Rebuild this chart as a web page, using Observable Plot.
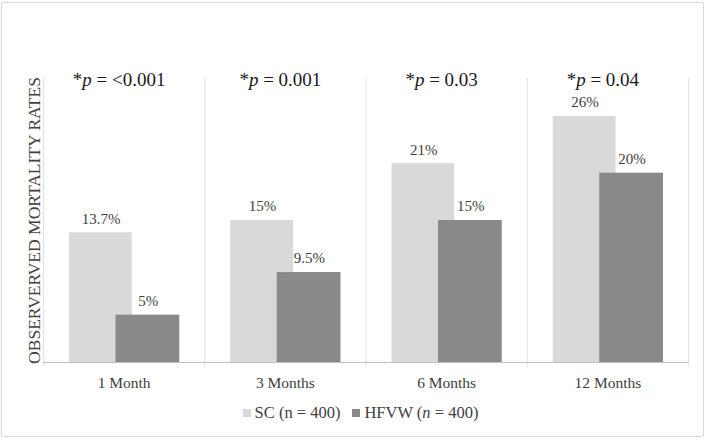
<!DOCTYPE html>
<html>
<head>
<meta charset="utf-8">
<script src="https://cdn.jsdelivr.net/npm/d3@7"></script>
<script src="https://cdn.jsdelivr.net/npm/@observablehq/plot@0.6"></script>
<style>
  html, body { margin: 0; padding: 0; background: #fff; }
  #wrap { position: relative; width: 709px; height: 440px; overflow: hidden; font-family: "Liberation Serif", "DejaVu Serif", "Noto Serif", "Times New Roman", Times, serif; }
  #border { position: absolute; left: 1px; top: 2px; width: 703px; height: 435px; border: 1px solid #d9d9d9; border-radius: 2px; box-sizing: border-box; pointer-events: none; }
  #chart { position: absolute; left: 0; top: 0; }
  #legend { position: absolute; left: 0; top: 400px; width: 709px; height: 26px; display: flex; justify-content: center; align-items: center; font-size: 16.5px; color: #404040; padding-left: 12px; box-sizing: border-box; }
  .item { display: flex; align-items: center; margin: 0 6px; }
  .sw { width: 8px; height: 8px; margin-right: 4px; }
</style>
</head>
<body>
<div id="wrap">
  <div id="chart"></div>
  <div id="legend"></div>
  <div id="border"></div>
</div>
<script>
const categories = ["1 Month", "3 Months", "6 Months", "12 Months"];
const scValues = [13.7, 15, 21, 26];
const hfvwValues = [5, 9.5, 15, 20];
const pLabels = ["*p = <0.001", "*p = 0.001", "*p = 0.03", "*p = 0.04"];
const seriesNames = ["SC (n = 400)", "HFVW (n = 400)"];
const yLabel = "OBSERVERVED MORTALITY RATES";

const serif = "'Liberation Serif', 'DejaVu Serif', 'Noto Serif', 'Times New Roman', Times, serif";
const colors = ["#d9d9d9", "#898989"];
const W = 709, H = 400, mL = 43, mR = 21, mT = 78, mB = 38;
const bw = (W - mL - mR) / categories.length;

const sc = categories.map((c, i) => ({cat: c, value: scValues[i]}));
const hf = categories.map((c, i) => ({cat: c, value: hfvwValues[i]}));
const pl = categories.map((c, i) => ({cat: c, label: pLabels[i]}));
const fmt = v => v + "%";

const chart = Plot.plot({
  width: W, height: H,
  marginLeft: mL, marginRight: mR, marginTop: mT, marginBottom: mB,
  style: {fontFamily: serif, fontSize: "15px", color: "#404040", background: "transparent"},
  x: {type: "band", domain: categories, padding: 0, round: false, label: null},
  y: {domain: [0, 30], axis: null},
  marks: [
    Plot.ruleX(categories, {x: d => d, dx: -bw / 2, stroke: "#e0e0e0", insetBottom: -4}),
    Plot.ruleX([categories[categories.length - 1]], {x: d => d, dx: bw / 2, stroke: "#e0e0e0", insetBottom: -4}),
    Plot.barY(sc, {x: "cat", y: "value", fill: colors[0], insetLeft: 26, insetRight: 72.5}),
    Plot.barY(hf, {x: "cat", y: "value", fill: colors[1], insetLeft: 72.5, insetRight: 25}),
    Plot.ruleY([0], {stroke: "#bfbfbf", strokeWidth: 1.2}),
    Plot.text(sc, {x: "cat", y: "value", text: d => fmt(d.value), dx: -23, dy: -14, fontSize: 15, fill: "#404040", fontFamily: serif}),
    Plot.text(hf, {x: "cat", y: "value", text: d => fmt(d.value), dx: 24, dy: -14, fontSize: 15, fill: "#404040", fontFamily: serif}),
    Plot.text(pl, {x: "cat", y: () => 30, text: "label", dx: -5, dy: 1, fontSize: 19, fill: "#1a1a1a", fontFamily: serif}),
    Plot.text([yLabel], {frameAnchor: "left", textAnchor: "middle", text: d => d, rotate: -90, dx: -9, fontSize: 17.5, fill: "#404040", fontFamily: serif}),
    Plot.axisX({tickSize: 0, tickPadding: 14, fontSize: 15.5, fill: "#404040", label: null, fontFamily: serif})
  ]
});

d3.select(chart).selectAll("text").each(function () {
  const t = this.textContent;
  if (t.startsWith("*p")) {
    const s = d3.select(this);
    s.text(null);
    s.append("tspan").text("*");
    s.append("tspan").attr("font-style", "italic").text("p");
    s.append("tspan").text(t.slice(2));
  }
});

document.getElementById("chart").appendChild(chart);

const legend = d3.select("#legend");
seriesNames.forEach((name, i) => {
  const item = legend.append("div").attr("class", "item");
  item.append("div").attr("class", "sw").style("background", colors[i]);
  const span = item.append("span");
  if (i === 1) {
    const parts = name.split("n =");
    span.append("span").text(parts[0]);
    span.append("i").text("n");
    span.append("span").text(" =" + parts[1]);
  } else {
    span.text(name);
  }
});
</script>
</body>
</html>
